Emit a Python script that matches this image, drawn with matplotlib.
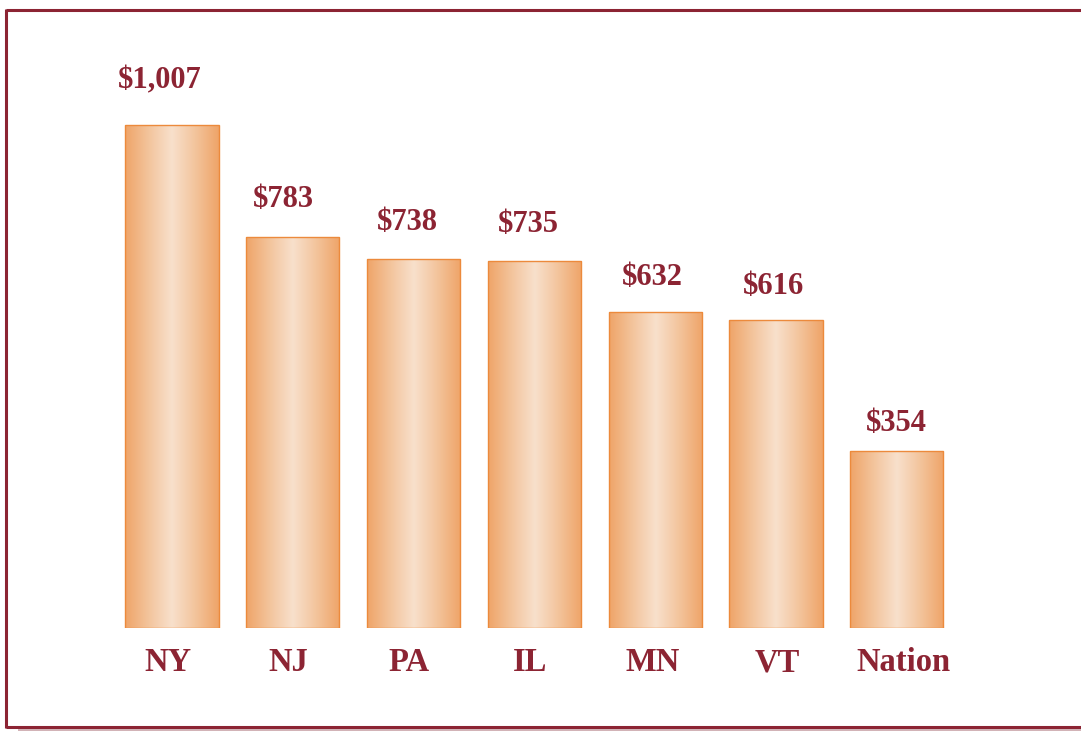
import numpy as np
import matplotlib.pyplot as plt
from matplotlib.colors import LinearSegmentedColormap
from matplotlib.lines import Line2D

# data
states = ['NY', 'NJ', 'PA', 'IL', 'MN', 'VT', 'Nation']
values = [1007, 783, 738, 735, 632, 616, 354]
labels = ['$1,007', '$783', '$738', '$735', '$632', '$616', '$354']

# label placement tweaks in pixels (value labels drift a bit in the original)
val_dx = [-12, -9.5, -6, -6.5, -2.5, -2, -0.5]
val_dy = [37, 30, 29, 29, 27, 26, 20]
cat_dx = [-4, -5, -5, -4.5, -2.5, 1, 7]

maroon = '#8C2433'
edge = '#EC8A3C'
grad = LinearSegmentedColormap.from_list(
    'bar', ['#EFA468', '#F3C49C', '#F8E0CC', '#F3C49C', '#EFA468'])

plt.rcParams['font.family'] = ['Liberation Serif', 'DejaVu Serif']

W, H = 1081, 731
fig = plt.figure(figsize=(W / 100, H / 100), dpi=100)
ax = fig.add_axes([0, 103 / H, 1, 628 / H])
ax.set_xlim(-172 / 120.8, (W - 172) / 120.8)
ax.set_ylim(0, 628 / 0.4995)
ax.axis('off')

x = np.arange(len(states))
bars = ax.bar(x, values, width=0.77, color='none', edgecolor=edge, linewidth=1, zorder=3)

g = np.linspace(0, 1, 256).reshape(1, -1)
for b in bars:
    im = ax.imshow(g, cmap=grad, aspect='auto', zorder=2,
                   extent=[b.get_x(), b.get_x() + b.get_width(), 0, b.get_height()])
    im.set_clip_path(b)

px = 72 / 100  # pixels -> points
for xi, v, lab, dx, dy in zip(x, values, labels, val_dx, val_dy):
    ax.annotate(lab, (xi, v), xytext=(dx * px, dy * px), textcoords='offset points',
                ha='center', va='baseline', fontsize=22, fontweight='bold', color=maroon)

for xi, s, dx in zip(x, states, cat_dx):
    ax.annotate(s, (xi, 0), xytext=(dx * px, -43 * px), textcoords='offset points',
                ha='center', va='baseline', fontsize=23.5, fontweight='bold', color=maroon)

# frame lines
def seg(x0, y0, x1, y1, c, lw):
    fig.add_artist(Line2D([x0 / W, x1 / W], [1 - y0 / H, 1 - y1 / H],
                          transform=fig.transFigure, color=c, lw=lw, solid_capstyle='butt'))
seg(6, 10, W, 10, maroon, 2.2)
seg(6, 9, 6, 728, maroon, 2.2)
seg(6, 727, W, 727, maroon, 2.2)
seg(18, 730, W, 730, '#C9A4A9', 1.2)

fig.savefig('out.png', dpi=100)
